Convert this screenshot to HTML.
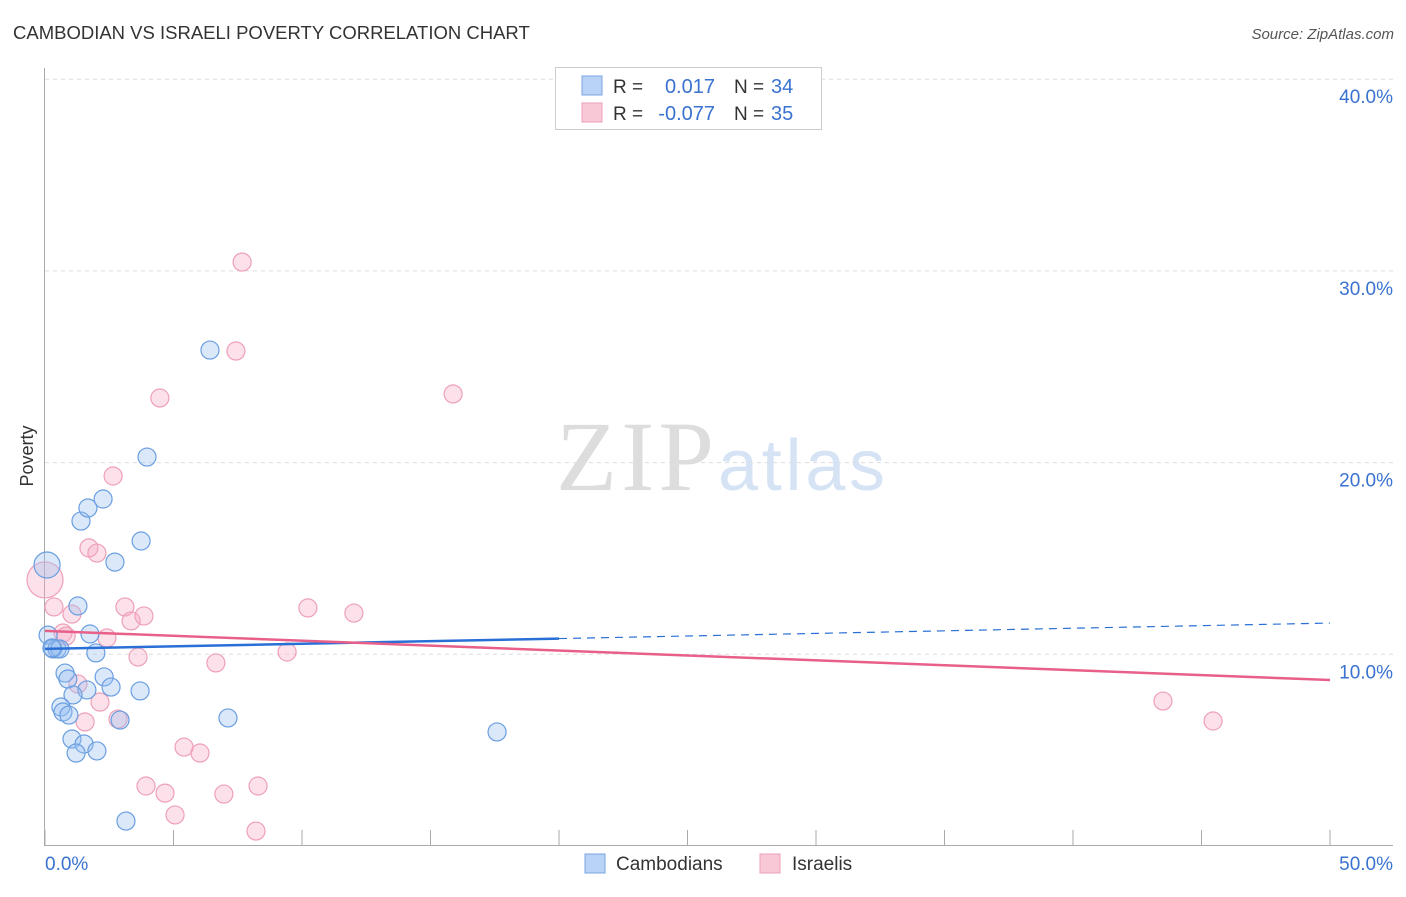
<!DOCTYPE html>
<html><head><meta charset="utf-8"><style>
body{margin:0;background:#fff;font-family:"Liberation Sans",sans-serif}
</style></head><body>
<svg id="c" width="1406" height="892" xmlns="http://www.w3.org/2000/svg" style="font-family:'Liberation Sans',sans-serif">
<text x="13" y="39" font-size="18.5" fill="#333">CAMBODIAN VS ISRAELI POVERTY CORRELATION CHART</text>
<text x="1394" y="39" font-size="15" fill="#555" font-style="italic" text-anchor="end">Source: ZipAtlas.com</text>
<text x="714" y="490" font-size="100" fill="#ddd" style="font-family:'Liberation Serif',serif" text-anchor="end" textLength="158">ZIP</text>
<text x="718" y="490" font-size="72" fill="#d5e3f5" textLength="167">atlas</text>
<text x="33" y="456" font-size="18" fill="#333" transform="rotate(-90 33 456)" text-anchor="middle">Poverty</text>
<g id="grid"></g><g id="axes"></g><g id="pts"></g><g id="lines"></g>
<g>
<rect x="555.5" y="67.5" width="266" height="62" fill="#fff" stroke="#ccc"/>
<rect x="582" y="76" width="20" height="19" fill="#b8d3f5" stroke="#7aa6e0"/>
<rect x="582" y="103" width="20" height="19" fill="#f9c8d6" stroke="#eba0b6"/>
<text x="613" y="93" font-size="19" fill="#333">R =</text>
<text x="715" y="93" font-size="20" fill="#3a72d0" text-anchor="end">0.017</text>
<text x="734" y="93" font-size="19" fill="#333">N =</text>
<text x="771" y="93" font-size="20" fill="#3a72d0">34</text>
<text x="613" y="120" font-size="19" fill="#333">R =</text>
<text x="715" y="120" font-size="20" fill="#3a72d0" text-anchor="end">-0.077</text>
<text x="734" y="120" font-size="19" fill="#333">N =</text>
<text x="771" y="120" font-size="20" fill="#3a72d0">35</text>
</g>
<g>
<rect x="585" y="854" width="20" height="19" fill="#b8d3f5" stroke="#7aa6e0"/>
<text x="616" y="870" font-size="19" fill="#333">Cambodians</text>
<rect x="760" y="854" width="20" height="19" fill="#f9c8d6" stroke="#eba0b6"/>
<text x="792" y="870" font-size="19" fill="#333">Israelis</text>
</g>
</svg>
<script>
const yTicks=[10,20,30,40];
const yTickLabels=["10.0%","20.0%","30.0%","40.0%"];
const xTickLabels=["0.0%","50.0%"];
const camX=[0.08,0.12,0.31,0.47,0.58,0.27,1.75,1.98,1.28,1.40,1.67,2.26,2.72,3.74,3.97,6.42,0.78,0.89,2.30,2.57,1.63,1.09,0.62,0.70,0.93,3.70,2.92,7.12,1.05,1.52,2.02,1.21,3.15,17.59];
const camY=[14.66,11.00,10.28,10.28,10.28,10.33,11.06,10.07,12.52,16.95,17.63,18.10,14.81,15.91,20.29,25.87,9.02,8.71,8.82,8.29,8.14,7.88,7.25,6.99,6.83,8.09,6.57,6.68,5.58,5.32,4.96,4.85,1.30,5.95];
const isrX=[0.0,0.35,0.70,0.82,1.05,1.71,2.02,3.11,3.35,3.85,2.41,1.28,2.14,1.56,2.84,3.62,6.65,4.47,2.65,7.67,7.43,15.88,10.23,12.02,9.42,5.41,6.03,3.93,4.67,5.06,6.96,8.29,8.21,43.50,45.45];
const isrY=[13.88,12.47,11.11,10.95,12.10,15.55,15.28,12.47,11.74,12.00,10.85,8.45,7.51,6.47,6.62,9.86,9.55,23.37,19.30,30.46,25.82,23.58,12.42,12.15,10.12,5.16,4.85,3.13,2.76,1.62,2.71,3.13,0.78,7.56,6.52];
const camTrend=[10.28,11.63];
const isrTrend=[11.22,8.66];
const NS="http://www.w3.org/2000/svg";
const sx=v=>45+v/50*1285;
const sy=v=>846-v*19.17;
function mk(tag,attrs,parent){const e=document.createElementNS(NS,tag);for(const k in attrs)e.setAttribute(k,attrs[k]);document.getElementById(parent).appendChild(e);return e;}
yTicks.forEach((t,i)=>{
 const l=mk('line',{x1:45,x2:1393,y1:sy(t),y2:sy(t),stroke:'#ddd','stroke-dasharray':'4 4'},'grid');
 
 
 const tx=mk('text',{x:1393,y:sy(t)+24,'font-size':19,fill:'#3a72d0','text-anchor':'end'},'grid');
 tx.textContent=yTickLabels[i];
 
 
});
let a=mk('line',{x1:44.5,x2:44.5,y1:68,y2:846,stroke:'#aaa'},'axes');


a=mk('line',{x1:45,x2:1393,y1:845.5,y2:845.5,stroke:'#aaa'},'axes');


for(let i=0;i<=10;i++){
 const t=mk('line',{x1:sx(i*5),x2:sx(i*5),y1:830,y2:846,stroke:'#aaa'},'axes');
 
 
}
[[0,45,'start'],[50,1393,'end']].forEach((d,i)=>{
 const t=mk('text',{x:d[1],y:870,'font-size':19,fill:'#3a72d0','text-anchor':d[2]},'axes');
 t.textContent=xTickLabels[i];
 
 
});
isrX.forEach((x,i)=>{
 const c=mk('circle',{cx:sx(x),cy:sy(isrY[i]),r:i===0?18:9,fill:'rgba(246,170,195,0.35)',stroke:'#eea0b8','stroke-width':1.2},'pts');
 
 
});
camX.forEach((x,i)=>{
 const c=mk('circle',{cx:sx(x),cy:sy(camY[i]),r:i===0?13:9,fill:'rgba(150,190,240,0.35)',stroke:'#6a9ee0','stroke-width':1.2},'pts');
 
 
});
const cy20=camTrend[0]+(camTrend[1]-camTrend[0])*20/50;
let ln=mk('line',{x1:sx(0),y1:sy(camTrend[0]),x2:sx(20),y2:sy(cy20),stroke:'#2a6fd6','stroke-width':2.5},'lines');


ln=mk('line',{x1:sx(20),y1:sy(cy20),x2:sx(50),y2:sy(camTrend[1]),stroke:'#2a6fd6','stroke-width':1.2,'stroke-dasharray':'8 6'},'lines');


ln=mk('line',{x1:sx(0),y1:sy(isrTrend[0]),x2:sx(50),y2:sy(isrTrend[1]),stroke:'#e8608a','stroke-width':2.5},'lines');


</script>
</body></html>
